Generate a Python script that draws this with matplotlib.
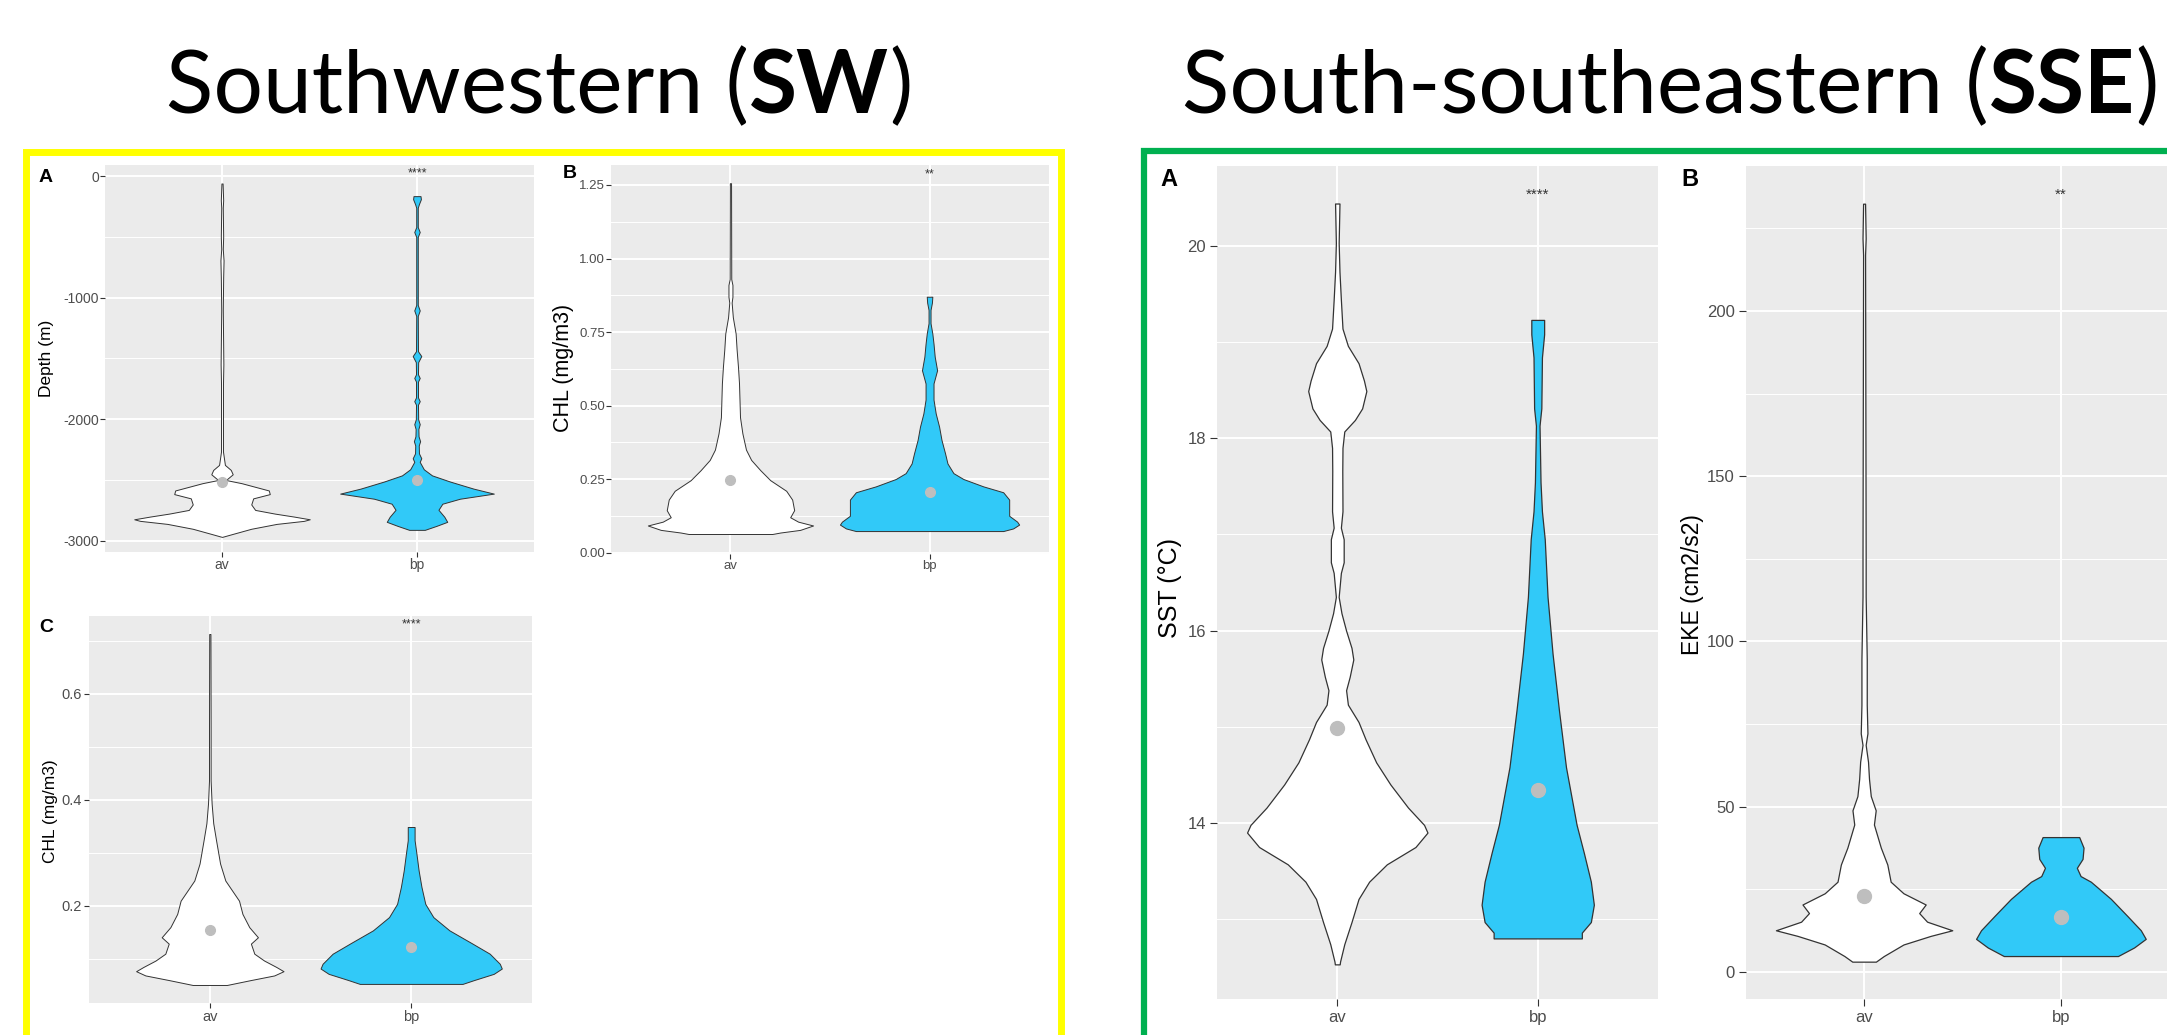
import matplotlib
matplotlib.use("Agg")
import matplotlib.pyplot as plt
import matplotlib.transforms as mtransforms
from matplotlib.patches import Rectangle

plt.rcParams["font.family"] = "Liberation Sans"
plt.rcParams["axes.unicode_minus"] = False

W, H = 2167, 1035
groups = ["av", "bp"]
fill_colors = ["white", "#31C9F8"]

# ---- SW panel A: depth (y value, half width)
sw_depth_av_y = [-61, -198, -260, -501, -600, -694, -832, -1100, -1548, -1714, -2265, -2375, -2416, -2452,
                 -2499, -2525, -2555, -2585, -2615, -2650, -2700, -2745, -2775, -2800, -2822, -2835,
                 -2860, -2900, -2940, -2967]
sw_depth_av_w = [0.003, 0.006, 0.004, 0.006, 0.004, 0.008, 0.006, 0.004, 0.007, 0.005, 0.005, 0.015, 0.045, 0.055,
                 0.02, 0.10, 0.17, 0.24, 0.245, 0.16, 0.15, 0.17, 0.27, 0.37, 0.45, 0.42,
                 0.28, 0.15, 0.06, 0.0]
sw_depth_bp_y = [-165, -190, -230, -260, -420, -460, -500, -1060, -1105, -1150, -1440, -1480, -1530, -1630,
                 -1660, -1690, -1820, -1851, -1880, -2000, -2040, -2080, -2140, -2180, -2215, -2280, -2320,
                 -2350, -2411, -2461, -2512, -2570, -2611, -2653, -2694, -2744, -2801, -2843, -2876, -2909]
sw_depth_bp_w = [0.018, 0.02, 0.01, 0.004, 0.004, 0.014, 0.004, 0.004, 0.014, 0.004, 0.005, 0.022, 0.006, 0.005,
                 0.014, 0.005, 0.005, 0.014, 0.005, 0.006, 0.014, 0.007, 0.008, 0.016, 0.009, 0.010, 0.022,
                 0.014, 0.035, 0.077, 0.17, 0.29, 0.394, 0.22, 0.13, 0.11, 0.14, 0.155, 0.10, 0.04]
sw_depth_means = [-2513, -2499]

# ---- SW panel B: CHL
sw_chl_b_av_y = [1.256, 0.93, 0.91, 0.87, 0.85, 0.80, 0.745, 0.69, 0.63, 0.575, 0.46, 0.405, 0.35, 0.315,
                 0.28, 0.246, 0.21, 0.18, 0.144, 0.12, 0.105, 0.092, 0.077, 0.068, 0.063]
sw_chl_b_av_w = [0.003, 0.004, 0.01, 0.01, 0.006, 0.012, 0.026, 0.031, 0.038, 0.043, 0.048, 0.06, 0.078, 0.104,
                 0.15, 0.2, 0.28, 0.31, 0.32, 0.30, 0.34, 0.415, 0.35, 0.25, 0.21]
sw_chl_b_bp_y = [0.87, 0.85, 0.825, 0.78, 0.745, 0.71, 0.666, 0.62, 0.60, 0.575, 0.52, 0.473, 0.428, 0.383,
                 0.337, 0.303, 0.27, 0.25, 0.225, 0.205, 0.18, 0.15, 0.125, 0.105, 0.095, 0.082, 0.073]
sw_chl_b_bp_w = [0.014, 0.012, 0.005, 0.005, 0.014, 0.02, 0.026, 0.038, 0.03, 0.02, 0.02, 0.031, 0.048, 0.06,
                 0.078, 0.09, 0.12, 0.17, 0.27, 0.37, 0.40, 0.40, 0.40, 0.44, 0.45, 0.42, 0.37]
sw_chl_b_means = [0.246, 0.207]

# ---- SW panel C: CHL
sw_chl_c_av_y = [0.713, 0.538, 0.437, 0.393, 0.356, 0.324, 0.28, 0.248, 0.21, 0.185, 0.16, 0.141, 0.129,
                 0.11, 0.097, 0.085, 0.077, 0.069, 0.06, 0.051]
sw_chl_c_av_w = [0.003, 0.004, 0.004, 0.009, 0.017, 0.031, 0.051, 0.077, 0.145, 0.162, 0.196, 0.239, 0.204,
                 0.221, 0.27, 0.33, 0.366, 0.32, 0.2, 0.085]
sw_chl_c_bp_y = [0.349, 0.324, 0.299, 0.267, 0.236, 0.204, 0.179, 0.154, 0.13, 0.11, 0.091, 0.082, 0.072,
                 0.06, 0.053]
sw_chl_c_bp_w = [0.017, 0.017, 0.026, 0.037, 0.051, 0.07, 0.11, 0.19, 0.30, 0.39, 0.44, 0.45, 0.41,
                 0.31, 0.255]
sw_chl_c_means = [0.154, 0.122]

# ---- SSE panel A: SST
sse_sst_av_y = [20.44, 20.03, 19.73, 19.44, 19.14, 18.96, 18.78, 18.6, 18.49, 18.31, 18.19, 18.07, 17.9,
                17.66, 17.24, 17.07, 16.95, 16.71, 16.6, 16.35, 16.18, 16.0, 15.82, 15.7, 15.52, 15.38,
                15.23, 15.05, 14.87, 14.63, 14.4, 14.16, 13.98, 13.9, 13.75, 13.57, 13.39, 13.21, 12.97,
                12.74, 12.56, 12.53]
sse_sst_av_w = [0.011, 0.007, 0.011, 0.018, 0.026, 0.053, 0.106, 0.133, 0.145, 0.124, 0.088, 0.035, 0.026,
                0.025, 0.026, 0.018, 0.032, 0.032, 0.018, 0.007, 0.021, 0.044, 0.071, 0.08, 0.062, 0.044,
                0.053, 0.106, 0.141, 0.194, 0.265, 0.353, 0.433, 0.45, 0.39, 0.247, 0.159, 0.106, 0.071,
                0.035, 0.014, 0.012]
sse_sst_bp_y = [19.23, 19.08, 18.84, 18.31, 18.13, 17.54, 17.24, 16.95, 16.35, 15.76, 15.17, 14.58, 13.98,
                13.69, 13.39, 13.15, 12.97, 12.86, 12.8]
sse_sst_bp_w = [0.032, 0.032, 0.021, 0.018, 0.009, 0.014, 0.021, 0.035, 0.049, 0.074, 0.106, 0.141, 0.194,
                0.23, 0.265, 0.28, 0.265, 0.22, 0.22]
sse_sst_means = [14.99, 14.34]

# ---- SSE panel B: EKE
sse_eke_av_y = [232.5, 222, 217, 125.7, 113.6, 94.6, 80.8, 72.2, 68.7, 63.6, 58.4, 53.2, 48.9, 44.6, 37.6,
                32.5, 27.3, 23.8, 20.4, 17.8, 15.2, 12.6, 10.9, 8.3, 4.8, 3.1]
sse_eke_av_w = [0.005, 0.008, 0.005, 0.008, 0.008, 0.0135, 0.0135, 0.017, 0.008, 0.02, 0.025, 0.034, 0.059,
                0.05, 0.085, 0.118, 0.135, 0.2, 0.313, 0.28, 0.32, 0.448, 0.338, 0.2, 0.1, 0.06]
sse_eke_bp_y = [40.8, 37.6, 34.2, 31.5, 29.0, 27.3, 22.1, 16.9, 12.6, 10.0, 7.4, 4.8]
sse_eke_bp_w = [0.093, 0.115, 0.11, 0.081, 0.1, 0.152, 0.254, 0.338, 0.406, 0.431, 0.372, 0.29]
sse_eke_means = [23.0, 16.6]

fig = plt.figure(figsize=(W / 100, H / 100), dpi=100)
fig.patch.set_facecolor("white")


def px_axes(left, top, right, bottom):
    return fig.add_axes([left / W, 1 - bottom / H, (right - left) / W, (bottom - top) / H])


def px_text(x, y, s, **kw):
    return fig.text(x / W, 1 - y / H, s, **kw)


def style(ax, ylim, major, labels, minor, tsize, tlen, tpad):
    ax.set_facecolor("#EBEBEB")
    ax.set_xlim(0.4, 2.6)
    ax.set_ylim(*ylim)
    ax.set_xticks([1, 2], groups)
    ax.set_yticks(major, labels)
    ax.set_yticks(minor, minor=True)
    ax.grid(True, which="major", color="white", lw=1.4)
    ax.grid(True, which="minor", axis="y", color="white", lw=0.7)
    ax.tick_params(which="minor", length=0)
    ax.tick_params(which="major", labelsize=tsize, labelcolor="#4D4D4D", color="#333333",
                   length=tlen, width=0.8, pad=tpad)
    for s in ax.spines.values():
        s.set_visible(False)
    ax.set_axisbelow(True)


def violins(ax, profiles, means, lw, ms):
    for i, (ys, ws) in enumerate(profiles):
        x = i + 1
        left = [x - w for w in ws]
        right = [x + w for w in ws]
        ax.fill_betweenx(ys, left, right, facecolor=fill_colors[i], edgecolor="#333333", lw=lw, zorder=3)
    ax.plot([1, 2], means, "o", color="#BEBEBE", ms=ms, zorder=5)


def stars(ax, s, yfrac, size):
    tr = mtransforms.blended_transform_factory(ax.transData, ax.transAxes)
    ax.text(2, yfrac, s, transform=tr, ha="center", va="center", fontsize=size, color="#333333")


# ---------- SW panel A
ax = px_axes(105, 165, 534, 552)
style(ax, (-3091, 91), [0, -1000, -2000, -3000], ["0", "-1000", "-2000", "-3000"],
      [-500, -1500, -2500], 10, 3.5, 1)
violins(ax, [(sw_depth_av_y, sw_depth_av_w), (sw_depth_bp_y, sw_depth_bp_w)], sw_depth_means, 0.7, 7)
stars(ax, "****", 0.977, 9)
px_text(46, 177, "A", fontsize=14, fontweight="bold", ha="center", va="center")
px_text(46, 358, "Depth (m)", fontsize=12.5, rotation=90, ha="center", va="center")

# ---------- SW panel B
ax = px_axes(611, 165, 1049, 554)
style(ax, (-0.005, 1.318), [0, 0.25, 0.5, 0.75, 1.0, 1.25], ["0.00", "0.25", "0.50", "0.75", "1.00", "1.25"],
      [0.125, 0.375, 0.625, 0.875, 1.125], 9.5, 3.5, 1)
violins(ax, [(sw_chl_b_av_y, sw_chl_b_av_w), (sw_chl_b_bp_y, sw_chl_b_bp_w)], sw_chl_b_means, 0.7, 7)
stars(ax, "**", 0.977, 9)
px_text(570, 173, "B", fontsize=14, fontweight="bold", ha="center", va="center")
px_text(563, 368, "CHL (mg/m3)", fontsize=15.5, rotation=90, ha="center", va="center")

# ---------- SW panel C
ax = px_axes(89, 616, 532, 1003)
style(ax, (0.017, 0.747), [0.2, 0.4, 0.6], ["0.2", "0.4", "0.6"],
      [0.1, 0.3, 0.5, 0.7], 10.5, 3.5, 1.5)
violins(ax, [(sw_chl_c_av_y, sw_chl_c_av_w), (sw_chl_c_bp_y, sw_chl_c_bp_w)], sw_chl_c_means, 0.7, 7)
stars(ax, "****", 0.977, 9)
px_text(46, 627, "C", fontsize=14, fontweight="bold", ha="center", va="center")
px_text(50, 811, "CHL (mg/m3)", fontsize=12.5, rotation=90, ha="center", va="center")

# ---------- SSE panel A
ax = px_axes(1217, 166, 1658, 999)
style(ax, (12.17, 20.83), [14, 16, 18, 20], ["14", "16", "18", "20"],
      [13, 15, 17, 19], 12, 5, 3)
violins(ax, [(sse_sst_av_y, sse_sst_av_w), (sse_sst_bp_y, sse_sst_bp_w)], sse_sst_means, 0.9, 10)
stars(ax, "****", 0.966, 11)
px_text(1169, 180, "A", fontsize=17, fontweight="bold", ha="center", va="center")
px_text(1170, 588, "SST (°C)", fontsize=18, rotation=90, ha="center", va="center")

# ---------- SSE panel B
ax = px_axes(1746, 166, 2179, 999)
style(ax, (-8.2, 243.9), [0, 50, 100, 150, 200], ["0", "50", "100", "150", "200"],
      [25, 75, 125, 175, 225], 12, 5, 3)
violins(ax, [(sse_eke_av_y, sse_eke_av_w), (sse_eke_bp_y, sse_eke_bp_w)], sse_eke_means, 0.9, 10)
stars(ax, "**", 0.966, 11)
px_text(1690, 180, "B", fontsize=17, fontweight="bold", ha="center", va="center")
px_text(1692, 585, "EKE (cm2/s2)", fontsize=16.5, rotation=90, ha="center", va="center")

# ---------- frames around the two regions
fig.patches.append(Rectangle((25.5 / W, -0.05), (1061 - 25.5) / W, 0.05 + 1 - 152.5 / H,
                             transform=fig.transFigure, fill=False, edgecolor="#FFFF00", lw=5))
fig.patches.append(Rectangle((1143.5 / W, -0.05), 0.5, 0.05 + 1 - 151 / H,
                             transform=fig.transFigure, fill=False, edgecolor="#00B050", lw=4.5))

# ---------- region titles: regular text + bold abbreviation
renderer = fig.canvas.get_renderer()


def region_title(x0, parts, size):
    x = x0
    for s, weight in parts:
        t = px_text(x, 113, s, fontsize=size, fontweight=weight, family="Lato", ha="left", va="baseline")
        bb = t.get_window_extent(renderer=renderer)
        x = bb.x1


region_title(166, [("Southwestern (", "normal"), ("SW", "bold"), (")", "normal")], 63)
region_title(1182, [("South-southeastern (", "normal"), ("SSE", "bold"), (")", "normal")], 63)

fig.savefig("out.png", dpi=100, facecolor="white")
